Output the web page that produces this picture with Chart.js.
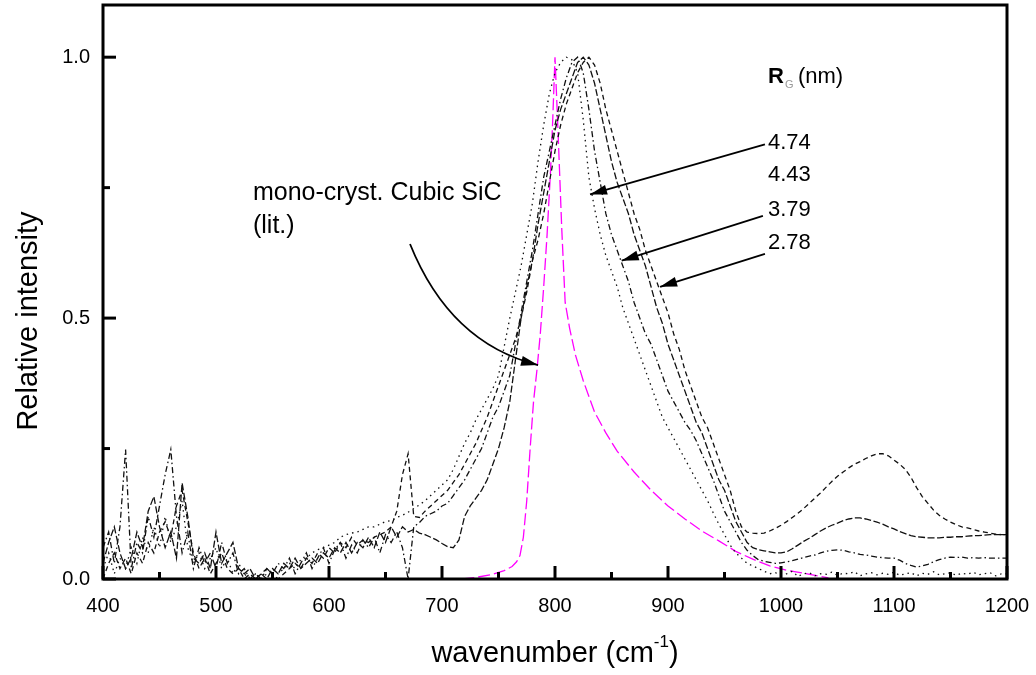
<!DOCTYPE html>
<html><head><meta charset="utf-8">
<script src="https://cdn.jsdelivr.net/npm/chart.js@4.4.1/dist/chart.umd.min.js"></script>
<style>html,body{margin:0;padding:0;background:#fff;}#wrap{width:1036px;height:675px;}</style>
</head><body><div id="wrap"><canvas id="c" width="1036" height="675"></canvas></div>
<script>
// ---- data ----
const wavenumbers = [
 400,405,410,415,420,425,430,435,440,445,
 450,455,460,465,470,475,480,485,490,495,
 500,505,510,515,520,525,530,535,540,545,
 550,555,560,565,570,575,580,585,590,595,
 600,605,610,615,620,625,630,635,640,645,
 650,655,660,665,670,675,680,685,690,695,
 700,705,710,715,720,725,730,735,740,745,
 750,755,760,765,770,775,780,785,790,795,
 800,805,810,815,820,825,830,835,840,845,
 850,855,860,865,870,875,880,885,890,895,
 900,905,910,915,920,925,930,935,940,945,
 950,955,960,965,970,975,980,985,990,995,
 1000,1005,1010,1015,1020,1025,1030,1035,1040,1045,
 1050,1055,1060,1065,1070,1075,1080,1085,1090,1095,
 1100,1105,1110,1115,1120,1125,1130,1135,1140,1145,
 1150,1155,1160,1165,1170,1175,1180,1185,1190,1195,
 1200];
const rg474 = [
 .02,.05,.01,.04,.02,.06,.03,.08,.05,.10,
 .06,.12,.07,.10,.15,.06,.03,.05,.02,.04,
 .06,.02,.04,.01,.03,.01,0,.01,0,.01,
 .02,.01,.02,.03,.02,.037,.04,.05,.056,.06,
 .065,.07,.08,.085,.088,.09,.095,.1,.1,.105,
 .11,.112,.118,.122,.128,.135,.142,.15,.16,.17,
 .18,.19,.21,.235,.26,.28,.305,.325,.345,.365,
 .39,.445,.5,.55,.6,.66,.72,.8,.87,.93,
 .97,.99,1.0,.995,.97,.88,.77,.71,.66,.62,
 .59,.56,.52,.49,.46,.43,.40,.37,.34,.31,
 .29,.27,.25,.23,.21,.19,.17,.15,.127,.105,
 .085,.065,.05,.04,.03,.025,.02,.015,.01,.012,
 .008,.01,.015,.005,.01,.012,.006,.01,.009,.013,
 .007,.011,.01,.014,.006,.01,.012,.008,.011,.009,
 .013,.007,.01,.012,.006,.011,.009,.014,.008,.01,
 .012,.007,.011,.009,.013,.008,.01,.012,.006,.01,
 .01];
const rg379 = [
 .06,.09,.03,.1,.248,.02,.07,.05,.12,.08,
 .14,.2,.248,.12,.05,.09,.02,.06,.03,.05,
 .02,.07,.03,.05,.01,.02,0,.01,0,.02,
 .01,.03,.02,.04,.01,.03,.05,.02,.04,.06,
 .03,.056,.07,.04,.065,.05,.075,.06,.08,.05,
 .085,.07,.09,.06,0,.1,.108,.12,.125,.13,
 .14,.145,.16,.175,.19,.21,.23,.25,.28,.31,
 .33,.36,.39,.45,.51,.57,.63,.7,.77,.82,
 .87,.92,.96,.99,1.0,.97,.9,.82,.76,.70,
 .66,.63,.6,.57,.53,.5,.47,.45,.42,.39,
 .36,.34,.32,.30,.285,.265,.24,.215,.19,.16,
 .13,.11,.09,.07,.055,.045,.037,.034,.032,.03,
 .031,.033,.035,.038,.041,.044,.046,.05,.053,.055,
 .056,.055,.052,.05,.047,.046,.044,.042,.041,.04,
 .04,.036,.03,.026,.023,.025,.028,.033,.037,.04,
 .042,.041,.042,.04,.041,.04,.041,.04,.04,.04,
 .04];
const rg443 = [
 .03,.07,.1,.05,.02,.04,.09,.06,.13,.158,
 .1,.06,.09,.04,.184,.12,.04,.03,.05,.02,
 .09,.03,.05,.07,.02,.01,.02,0,.01,0,
 .02,.01,.03,.02,.04,.02,.03,.04,.03,.05,
 .04,.06,.05,.07,.05,.07,.06,.08,.06,.09,
 .07,.1,.08,.1,.09,.095,.088,.085,.08,.075,
 .068,.062,.06,.075,.12,.14,.155,.17,.19,.22,
 .25,.29,.34,.42,.5,.56,.61,.68,.74,.8,
 .86,.9,.93,.96,.99,1.0,.985,.95,.9,.85,
 .8,.76,.73,.7,.66,.63,.6,.56,.52,.49,
 .45,.42,.39,.36,.33,.3,.28,.25,.22,.19,
 .17,.14,.11,.09,.07,.06,.056,.054,.052,.05,
 .05,.052,.058,.065,.072,.078,.085,.092,.098,.103,
 .107,.112,.115,.117,.117,.115,.112,.109,.105,.1,
 .096,.091,.087,.083,.081,.08,.079,.079,.079,.08,
 .08,.081,.081,.082,.083,.083,.084,.085,.085,.085,
 .085];
const rg278 = [
 0,.03,.05,.02,.04,.01,.05,.03,.07,.05,
 .09,.11,.08,.14,.17,.11,.05,.02,.04,.01,
 .03,.05,.02,.01,.02,0,.01,0,.01,.02,
 .01,0,.01,.02,.03,.02,.04,.03,.05,.04,
 .06,.05,.07,.06,.08,.065,.075,.07,.08,.085,
 .09,.1,.13,.2,.24,.12,.118,.13,.14,.15,
 .16,.17,.185,.2,.22,.24,.26,.285,.31,.34,
 .37,.4,.43,.46,.5,.55,.61,.65,.7,.76,
 .82,.87,.91,.94,.97,.99,1.0,.985,.95,.9,
 .86,.82,.78,.74,.7,.67,.63,.6,.57,.54,
 .51,.47,.44,.4,.37,.34,.31,.29,.26,.23,
 .2,.17,.13,.1,.09,.088,.087,.088,.092,.097,
 .103,.11,.118,.126,.135,.145,.155,.165,.176,.187,
 .197,.205,.213,.22,.225,.231,.236,.24,.24,.236,
 .228,.22,.21,.195,.175,.158,.145,.132,.122,.115,
 .109,.104,.1,.098,.095,.092,.09,.088,.086,.085,
 .085];
const monoWavenumbers = [718,730,745,755,762,766,769,772,775,778,781,784,787,790,793,796,798,800,803,806,809,813,818,825,835,845,855,870,885,900,915,930,945,960,975,990,1005,1020,1035,1042];
const monoIntensity = [0.0,0.003,0.009,0.016,0.024,0.033,0.045,0.08,0.15,0.25,0.34,0.40,0.47,0.56,0.66,0.78,0.88,1.0,0.84,0.67,0.53,0.48,0.43,0.38,0.32,0.28,0.245,0.205,0.17,0.14,0.115,0.092,0.073,0.053,0.038,0.025,0.017,0.011,0.005,0.002];
const seriesLabels = ['4.74','4.43','3.79','2.78'];
const xMajorTicks = [400,500,600,700,800,900,1000,1100,1200];
const xMinorTicks = [450,550,650,750,850,950,1050,1150];
const yMajorTicks = [0,0.5,1.0];
const yMinorTicks = [0.25,0.75];

// ---- chart ----
const FONT = "'Liberation Sans', Arial, sans-serif";
const pts = (xs, ys) => xs.map((x, i) => ({x: x, y: ys[i]}));

const framePlugin = {
  id: 'frame',
  afterDatasetsDraw(chart) {
    const {ctx, chartArea: a, scales: {x, y}} = chart;
    ctx.save();
    ctx.strokeStyle = '#000';
    ctx.lineWidth = 3;
    ctx.strokeRect(a.left, a.top, a.right - a.left, a.bottom - a.top);
    const tick = (x0, y0, x1, y1, w) => { ctx.lineWidth = w; ctx.beginPath(); ctx.moveTo(x0, y0); ctx.lineTo(x1, y1); ctx.stroke(); };
    xMajorTicks.forEach(v => { const p = x.getPixelForValue(v); tick(p, a.bottom, p, a.bottom - 13, 3); });
    xMinorTicks.forEach(v => { const p = x.getPixelForValue(v); tick(p, a.bottom, p, a.bottom - 7, 3); });
    yMajorTicks.forEach(v => { const p = y.getPixelForValue(v); tick(a.left, p, a.left + 13, p, 3); });
    yMinorTicks.forEach(v => { const p = y.getPixelForValue(v); tick(a.left, p, a.left + 7, p, 3); });
    ctx.restore();
  }
};

function arrowHead(ctx, fx, fy, tx, ty, len, half) {
  const ang = Math.atan2(ty - fy, tx - fx);
  ctx.beginPath();
  ctx.moveTo(tx, ty);
  ctx.lineTo(tx - len * Math.cos(ang) + half * Math.sin(ang), ty - len * Math.sin(ang) - half * Math.cos(ang));
  ctx.lineTo(tx - len * Math.cos(ang) - half * Math.sin(ang), ty - len * Math.sin(ang) + half * Math.cos(ang));
  ctx.closePath();
  ctx.fill();
}

const annotationPlugin = {
  id: 'notes',
  afterDraw(chart) {
    const {ctx, scales: {x, y}} = chart;
    const X = v => x.getPixelForValue(v), Y = v => y.getPixelForValue(v);
    ctx.save();
    ctx.fillStyle = '#000'; ctx.strokeStyle = '#000';
    const arrows = [[985.8, 0.833, 831, 0.737], [984, 0.696, 859, 0.61], [985.8, 0.623, 893, 0.56]];
    arrows.forEach(([a, b, c, d]) => {
      ctx.lineWidth = 1.8;
      ctx.beginPath(); ctx.moveTo(X(a), Y(b)); ctx.lineTo(X(c), Y(d)); ctx.stroke();
      arrowHead(ctx, X(a), Y(b), X(c), Y(d), 17, 5);
    });
    const p0 = [X(671.7), Y(0.642)], p1 = [X(707), Y(0.452)], p2 = [X(785), Y(0.41)];
    ctx.lineWidth = 1.8;
    ctx.beginPath(); ctx.moveTo(p0[0], p0[1]); ctx.quadraticCurveTo(p1[0], p1[1], p2[0], p2[1]); ctx.stroke();
    arrowHead(ctx, p1[0], p1[1], p2[0], p2[1], 17, 5);

    ctx.textBaseline = 'alphabetic'; ctx.textAlign = 'left';
    const lx = X(988.5);
    ctx.font = 'bold 22px ' + FONT;
    ctx.fillText('R', lx, Y(0.95));
    const rw = ctx.measureText('R').width;
    ctx.font = '11px ' + FONT; ctx.fillStyle = '#999';
    ctx.fillText('G', lx + rw + 1, Y(0.95) + 5);
    ctx.fillStyle = '#000';
    ctx.font = '22px ' + FONT;
    ctx.fillText('(nm)', lx + rw + 14, Y(0.95));
    const rows = [0.824, 0.762, 0.696, 0.633];
    seriesLabels.forEach((t, i) => ctx.fillText(t, lx, Y(rows[i])));
    ctx.font = '25px ' + FONT;
    ctx.fillText('mono-cryst. Cubic SiC', X(532.7), Y(0.727));
    ctx.fillText('(lit.)', X(532.7), Y(0.663));

    ctx.font = '29px ' + FONT;
    ctx.save();
    ctx.translate(29, 321); ctx.rotate(-Math.PI / 2);
    ctx.textAlign = 'center'; ctx.textBaseline = 'middle';
    ctx.fillText('Relative intensity', 0, 0);
    ctx.restore();
    const main = 'wavenumber (cm', sup = '-1', close = ')';
    ctx.font = '29px ' + FONT; const w1 = ctx.measureText(main).width, w3 = ctx.measureText(close).width;
    ctx.font = '17px ' + FONT; const w2 = ctx.measureText(sup).width;
    let sx = (x.left + x.right) / 2 - (w1 + w2 + w3) / 2;
    const base = 662;
    ctx.font = '29px ' + FONT; ctx.fillText(main, sx, base);
    ctx.font = '17px ' + FONT; ctx.fillText(sup, sx + w1, base - 15);
    ctx.font = '29px ' + FONT; ctx.fillText(close, sx + w1 + w2, base);
    ctx.restore();
  }
};

const blackStyles = [[1.5, 4], [7, 2.5], [6, 3, 1.5, 3], [5, 3.5]];
const blackData = [rg474, rg443, rg379, rg278];
const datasets = blackData.map((arr, i) => ({
  label: 'R_G = ' + seriesLabels[i] + ' nm',
  data: pts(wavenumbers, arr),
  borderColor: '#111', borderWidth: 1.3, borderDash: blackStyles[i],
  pointRadius: 0, tension: 0, fill: false
}));
datasets.push({
  label: 'mono-cryst. Cubic SiC (lit.)',
  data: pts(monoWavenumbers, monoIntensity),
  borderColor: '#ff00ff', borderWidth: 1.3, borderDash: [12, 4],
  pointRadius: 0, tension: 0, fill: false
});

const zeroPad = s => { s.paddingTop = 0; s.paddingBottom = 0; s.paddingLeft = 0; s.paddingRight = 0; };

new Chart(document.getElementById('c'), {
  type: 'line',
  data: {datasets},
  options: {
    responsive: false, animation: false, devicePixelRatio: 1,
    layout: {padding: {left: 0, right: 29, top: 5, bottom: 0}},
    plugins: {legend: {display: false}, tooltip: {enabled: false}},
    scales: {
      x: {
        type: 'linear', min: 400, max: 1200,
        grid: {display: false, drawTicks: false}, border: {display: false},
        afterBuildTicks: s => { s.ticks = xMajorTicks.map(v => ({value: v})); },
        afterFit: s => { s.height = 96; zeroPad(s); },
        ticks: {font: {family: FONT, size: 20}, color: '#000', padding: 15, maxRotation: 0, callback: v => String(v)}
      },
      y: {
        type: 'linear', min: 0, max: 1.1,
        grid: {display: false, drawTicks: false}, border: {display: false},
        afterBuildTicks: s => { s.ticks = yMajorTicks.map(v => ({value: v})); },
        afterFit: s => { s.width = 103; zeroPad(s); },
        ticks: {font: {family: FONT, size: 20}, color: '#000', padding: 13, callback: v => Number(v).toFixed(1)}
      }
    }
  },
  plugins: [framePlugin, annotationPlugin]
});
</script></body></html>
